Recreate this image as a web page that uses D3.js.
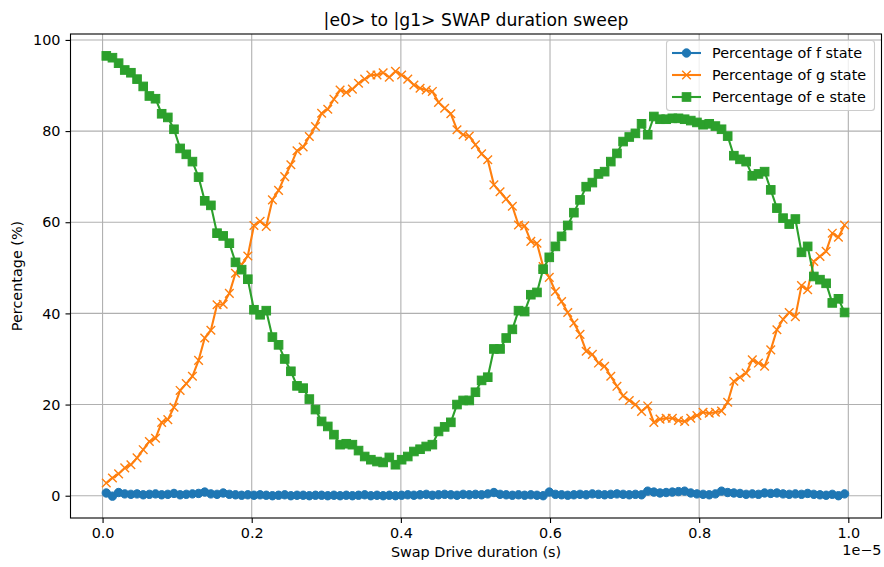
<!DOCTYPE html>
<html>
<head>
<meta charset="utf-8">
<script src="https://cdn.jsdelivr.net/npm/d3@7"></script>
<style>
  body { margin: 0; background: #fff; }
  svg text { font-family: "DejaVu Sans", sans-serif; fill: #000; }
</style>
</head>
<body>
<div id="chart"></div>
<script>
/* Swap drive durations of the sweep, in ns. */
const durationNs = [
  50, 132.5, 215, 297.5, 380, 462.5, 545, 627.5, 710, 792.5, 875, 957.5,
  1040, 1122.5, 1205, 1287.5, 1370, 1452.5, 1535, 1617.5, 1700, 1782.5, 1865, 1947.5,
  2030, 2112.5, 2195, 2277.5, 2360, 2442.5, 2525, 2607.5, 2690, 2772.5, 2855, 2937.5,
  3020, 3102.5, 3185, 3267.5, 3350, 3432.5, 3515, 3597.5, 3680, 3762.5, 3845, 3927.5,
  4010, 4092.5, 4175, 4257.5, 4340, 4422.5, 4505, 4587.5, 4670, 4752.5, 4835, 4917.5,
  5000, 5082.5, 5165, 5247.5, 5330, 5412.5, 5495, 5577.5, 5660, 5742.5, 5825, 5907.5,
  5990, 6072.5, 6155, 6237.5, 6320, 6402.5, 6485, 6567.5, 6650, 6732.5, 6815, 6897.5,
  6980, 7062.5, 7145, 7227.5, 7310, 7392.5, 7475, 7557.5, 7640, 7722.5, 7805, 7887.5,
  7970, 8052.5, 8135, 8217.5, 8300, 8382.5, 8465, 8547.5, 8630, 8712.5, 8795, 8877.5,
  8960, 9042.5, 9125, 9207.5, 9290, 9372.5, 9455, 9537.5, 9620, 9702.5, 9785, 9867.5,
  9950
];

/* Measured state populations (%). */
const fState = [
  0.6, -0.1, 0.7, 0.4, 0.3, 0.4, 0.2, 0.3, 0.4, 0.2, 0.3, 0.5, 0.2, 0.3, 0.4, 0.5, 0.8, 0.4, 0.3, 0.6, 0.3, 0.2, 0.1, 0.2,
  0.1, 0.2, 0.1, 0.0, 0.1, 0.2, 0.0, 0.1, 0.1, 0.0, 0.1, 0.1, 0.0, 0.1, 0.0, 0.1, 0.0, 0.1, 0.2, 0.0, 0.1, 0.0, 0.1, 0.0,
  0.1,
  0.2, 0.1, 0.2, 0.3, 0.1, 0.2, 0.3, 0.2, 0.1, 0.3, 0.2, 0.3, 0.2, 0.4, 0.7, 0.3, 0.2, 0.1, 0.2, 0.1, 0.2, 0.1, 0.0, 0.8,
  0.3, 0.2, 0.1, 0.2, 0.3, 0.2, 0.4, 0.3, 0.2, 0.3, 0.4, 0.3, 0.2, 0.3, 0.2, 1.0, 0.8, 0.6, 0.7, 0.8, 0.9, 1.0, 0.6, 0.4,
  0.3, 0.2, 0.4, 1.0, 0.7, 0.6, 0.5, 0.3, 0.4, 0.3, 0.6, 0.5, 0.6, 0.4, 0.3, 0.4, 0.3, 0.5, 0.3, 0.2, 0.1, 0.3, 0.0, 0.4
];
const gState = [
  2.8, 3.9, 4.8, 6.1, 6.8, 8.3, 10.1, 11.9, 12.6, 16.1, 16.7, 19.4, 23.1, 24.6, 26.2, 29.7, 34.6, 36.3, 41.9, 42.0, 44.4, 48.8, 50.7, 52.6,
  59.3, 60.2, 59.1, 64.9, 67.0, 70.0, 72.6, 75.7, 76.5, 78.8, 81.0, 83.9, 84.8, 87.0, 89.0, 88.5, 89.2, 90.5, 91.4, 92.3, 92.3, 92.8, 91.8, 93.1, 92.3,
  91.4, 90.1, 89.4, 89.0, 88.7, 86.3, 85.0, 83.8, 80.3, 79.2, 78.9, 77.0, 75.0, 73.7, 68.2, 66.7, 65.1, 63.5, 59.4, 59.2, 55.8, 55.4, 50.3, 47.9,
  44.8, 42.6, 40.2, 37.9, 35.4, 31.7, 31.0, 29.1, 28.4, 26.2, 24.0, 21.9, 20.9, 20.0, 18.5, 19.7, 16.1, 16.8, 17.0, 17.0, 16.5, 16.3, 17.0, 17.6,
  18.3, 18.1, 18.3, 18.6, 20.5, 25.1, 26.0, 26.9, 29.8, 29.1, 28.4, 32.0, 36.4, 38.7, 40.2, 39.3, 46.1, 45.2, 51.4, 52.5, 53.6, 57.6, 56.7, 59.4
];
const eState = [
  96.5, 96.1, 94.9, 93.4, 92.8, 91.4, 89.8, 87.7, 87.1, 83.8, 83.0, 80.4, 76.2, 74.9, 73.3, 69.9, 64.7, 63.7, 57.6, 57.0, 55.4, 51.2, 49.6, 47.5,
  40.8, 39.7, 40.6, 34.8, 33.1, 30.0, 27.3, 24.1, 23.6, 21.2, 18.9, 16.3, 15.2, 13.4, 11.2, 11.4, 11.2, 9.9, 8.6, 7.9, 7.5, 7.3, 8.4, 6.8,
  7.9,
  8.6, 9.7, 10.2, 10.8, 11.2, 14.1, 15.1, 16.1, 20.0, 20.9, 20.9, 22.7, 25.3, 26.0, 32.2, 32.2, 34.6, 36.5, 40.6, 40.4, 44.1, 44.6, 49.7, 52.3,
  54.7, 56.9, 59.3, 62.1, 64.9, 67.8, 68.7, 70.6, 71.1, 73.3, 75.1, 77.7, 78.7, 79.5, 81.6, 79.2, 83.2, 82.6, 82.6, 82.8, 82.8, 82.6, 82.3, 81.9,
  81.4, 81.6, 81.1, 80.4, 78.9, 74.6, 73.8, 73.3, 70.2, 70.6, 71.1, 67.1, 63.1, 60.9, 59.6, 60.7, 53.4, 54.7, 48.1, 47.4, 46.6, 42.3, 43.2, 40.2
];

const seriesNames = ["Percentage of f state", "Percentage of g state", "Percentage of e state"];
const seriesColors = ["#1f77b4", "#ff7f0e", "#2ca02c"];
const seriesMarkers = ["circle", "cross", "square"];

/* Tick positions, x in units of 1e-5 s. */
const xTicks = [0, 0.2, 0.4, 0.6, 0.8, 1.0];
const yTicks = [0, 20, 40, 60, 80, 100];

/* Chart layout. */
const chartParams = {
  width: 884,
  height: 567,
  left: 70.5,
  right: 881.5,
  top: 34,
  bottom: 518,
  fontSize: "14.4px"
};

const x = d3.scaleLinear()
  .domain([-0.043e-5, 1.0445e-5])
  .range([chartParams.left, chartParams.right]);
const y = d3.scaleLinear()
  .domain([-4.89, 101.3])
  .range([chartParams.bottom, chartParams.top]);

const svg = d3.select("#chart")
  .append("svg")
  .attr("width", chartParams.width)
  .attr("height", chartParams.height);

const plotW = chartParams.right - chartParams.left;
const plotH = chartParams.bottom - chartParams.top;

/* Grid lines. */
const grid = svg.append("g").attr("class", "grid");
grid.selectAll("line.gx")
  .data(xTicks)
  .enter()
  .append("line")
  .attr("x1", d => x(d * 1e-5))
  .attr("x2", d => x(d * 1e-5))
  .attr("y1", chartParams.top)
  .attr("y2", chartParams.bottom)
  .attr("stroke", "#b0b0b0")
  .attr("stroke-width", 1.1);
grid.selectAll("line.gy")
  .data(yTicks)
  .enter()
  .append("line")
  .attr("x1", chartParams.left)
  .attr("x2", chartParams.right)
  .attr("y1", d => y(d))
  .attr("y2", d => y(d))
  .attr("stroke", "#b0b0b0")
  .attr("stroke-width", 1.1);

/* Axes. */
const xAxis = svg.append("g")
  .attr("transform", "translate(0," + chartParams.bottom + ")")
  .call(d3.axisBottom(x)
    .tickValues(xTicks.map(d => d * 1e-5))
    .tickFormat(d => d3.format(".1f")(d / 1e-5))
    .tickSize(5)
    .tickSizeOuter(0)
    .tickPadding(5));
const yAxis = svg.append("g")
  .attr("transform", "translate(" + chartParams.left + ",0)")
  .call(d3.axisLeft(y)
    .tickValues(yTicks)
    .tickSize(5)
    .tickSizeOuter(0)
    .tickPadding(5));

[xAxis, yAxis].forEach(a => {
  a.select(".domain").remove();
  a.selectAll(".tick line").attr("stroke", "#000").attr("stroke-width", 1.1);
  a.selectAll(".tick text")
    .style("font-family", "DejaVu Sans, sans-serif")
    .style("font-size", chartParams.fontSize)
    .attr("fill", "#000");
});

/* Clip path so markers stay inside the axes. */
svg.append("defs").append("clipPath")
  .attr("id", "plotClip")
  .append("rect")
  .attr("x", chartParams.left)
  .attr("y", chartParams.top)
  .attr("width", plotW)
  .attr("height", plotH);

const plot = svg.append("g").attr("clip-path", "url(#plotClip)");

const allSeries = [fState, gState, eState];

const line = d3.line()
  .x((d, i) => x(durationNs[i] * 1e-9))
  .y(d => y(d));

/* Draw one marker of the given kind into a selection. */
function drawMarker(sel, kind, color) {
  if (kind === "circle") {
    sel.append("circle")
      .attr("r", 4.2)
      .attr("fill", color)
      .attr("stroke", color)
      .attr("stroke-width", 1);
  } else if (kind === "square") {
    sel.append("rect")
      .attr("x", -4.3)
      .attr("y", -4.3)
      .attr("width", 8.6)
      .attr("height", 8.6)
      .attr("fill", color)
      .attr("stroke", color)
      .attr("stroke-width", 1);
  } else {
    sel.append("path")
      .attr("d", "M-4.3,-4.3L4.3,4.3M-4.3,4.3L4.3,-4.3")
      .attr("fill", "none")
      .attr("stroke", color)
      .attr("stroke-width", 1.4);
  }
}

allSeries.forEach((values, s) => {
  const g = plot.append("g");
  g.append("path")
    .datum(values)
    .attr("d", line)
    .attr("fill", "none")
    .attr("stroke", seriesColors[s])
    .attr("stroke-width", 2.1)
    .attr("stroke-linejoin", "round");
  g.selectAll("g.pt")
    .data(values)
    .enter()
    .append("g")
    .attr("class", "pt")
    .attr("transform", (d, i) => "translate(" + x(durationNs[i] * 1e-9) + "," + y(d) + ")")
    .each(function () { drawMarker(d3.select(this), seriesMarkers[s], seriesColors[s]); });
});

/* Axes frame. */
svg.append("rect")
  .attr("x", chartParams.left)
  .attr("y", chartParams.top)
  .attr("width", plotW)
  .attr("height", plotH)
  .attr("fill", "none")
  .attr("stroke", "#000")
  .attr("stroke-width", 1.1);

/* Title and axis labels. */
svg.append("text")
  .attr("x", (chartParams.left + chartParams.right) / 2)
  .attr("y", 26)
  .attr("text-anchor", "middle")
  .style("font-size", "17.2px")
  .text("|e0> to |g1> SWAP duration sweep");

svg.append("text")
  .attr("x", (chartParams.left + chartParams.right) / 2)
  .attr("y", 557)
  .attr("text-anchor", "middle")
  .style("font-size", chartParams.fontSize)
  .text("Swap Drive duration (s)");

svg.append("text")
  .attr("transform", "translate(22," + ((chartParams.top + chartParams.bottom) / 2) + ") rotate(-90)")
  .attr("text-anchor", "middle")
  .style("font-size", chartParams.fontSize)
  .text("Percentage (%)");

svg.append("text")
  .attr("x", chartParams.right)
  .attr("y", 555)
  .attr("text-anchor", "end")
  .style("font-size", chartParams.fontSize)
  .text("1e\u22125");

/* Legend in the upper right. */
const legend = svg.append("g");
legend.append("rect")
  .attr("x", 666.5)
  .attr("y", 40.5)
  .attr("width", 208)
  .attr("height", 70)
  .attr("rx", 3)
  .attr("fill", "#fff")
  .attr("fill-opacity", 0.8)
  .attr("stroke", "#cccccc")
  .attr("stroke-width", 1.1);

const rows = legend.selectAll("g.row")
  .data(seriesNames)
  .enter()
  .append("g")
  .attr("class", "row")
  .attr("transform", (d, i) => "translate(0," + (53 + i * 22) + ")");
rows.append("line")
  .attr("x1", 672)
  .attr("x2", 701)
  .attr("stroke", (d, i) => seriesColors[i])
  .attr("stroke-width", 2.1);
rows.each(function (d, i) {
  const m = d3.select(this).append("g").attr("transform", "translate(686.5,0)");
  drawMarker(m, seriesMarkers[i], seriesColors[i]);
});
rows.append("text")
  .attr("x", 712)
  .attr("y", 5)
  .style("font-size", chartParams.fontSize)
  .text(d => d);
</script>
</body>
</html>
